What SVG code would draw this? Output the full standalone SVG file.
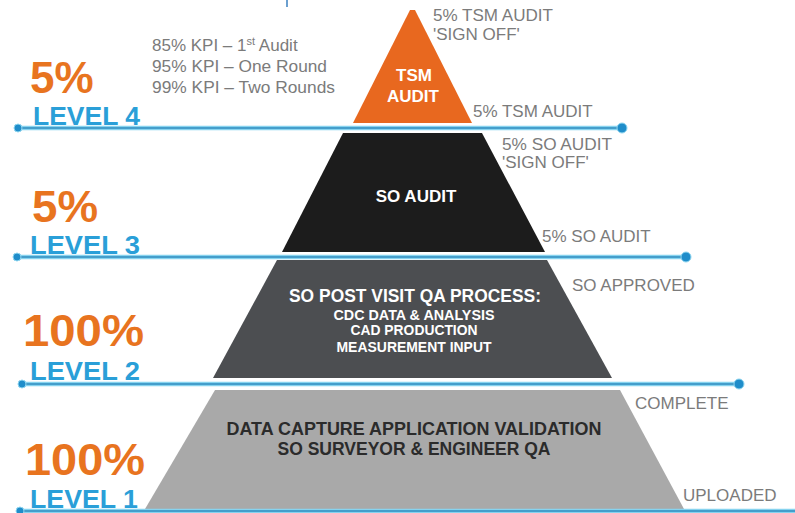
<svg xmlns="http://www.w3.org/2000/svg" width="795" height="513" viewBox="0 0 795 513">
<style>
  .pct { font-family: "Liberation Sans", Arial, sans-serif; font-weight: bold; fill: #e8741f; }
  .lvl { font-family: "Liberation Sans", Arial, sans-serif; font-weight: bold; font-size: 25px; fill: #2a9fd8; }
  .note { font-family: "Liberation Sans", Arial, sans-serif; font-size: 17px; fill: #7b7b7b; }
  .inw { font-family: "Liberation Sans", Arial, sans-serif; font-weight: bold; fill: #ffffff; text-anchor: middle; }
  .ind { font-family: "Liberation Sans", Arial, sans-serif; font-weight: bold; fill: #2b2b2b; text-anchor: middle; }
  .band { stroke: #86d3ef; stroke-width: 4.5; fill: none; }
  .core { stroke: #2f8cbf; stroke-width: 1.3; fill: none; }
  .dot { fill: #1f8dca; stroke: #8fd6f0; stroke-width: 1; }
</style>
<rect x="0" y="0" width="795" height="513" fill="#ffffff"/>
<line x1="287" y1="0" x2="287" y2="7" stroke="#3a7fbf" stroke-width="1.5"/>

<g id="tier-level4">
  <polygon points="410,10 415,10 472,123 353,123" fill="#e8681f"/>
  <text class="inw" x="414" y="81" font-size="17">TSM</text>
  <text class="inw" x="413" y="102" font-size="17">AUDIT</text>
</g>
<g id="tier-level3">
  <polygon points="343,133 482,133 545,252 282,252" fill="#1c1c1c"/>
  <text class="inw" x="416" y="202" font-size="17">SO AUDIT</text>
</g>
<g id="tier-level2">
  <polygon points="277,260 547,260 612,378 213,378" fill="#4c4e51"/>
  <text class="inw" x="415" y="302" font-size="17.5" textLength="252" lengthAdjust="spacingAndGlyphs">SO POST VISIT QA PROCESS:</text>
  <text class="inw" x="414" y="320" font-size="14" textLength="161" lengthAdjust="spacingAndGlyphs">CDC DATA &amp; ANALYSIS</text>
  <text class="inw" x="414" y="335" font-size="14" textLength="127" lengthAdjust="spacingAndGlyphs">CAD PRODUCTION</text>
  <text class="inw" x="414" y="352" font-size="14" textLength="155" lengthAdjust="spacingAndGlyphs">MEASUREMENT INPUT</text>
</g>
<g id="tier-level1">
  <polygon points="215,390 620,390 684,509 145,509" fill="#a9a9a9"/>
  <text class="ind" x="414" y="435" font-size="18" textLength="375" lengthAdjust="spacingAndGlyphs">DATA CAPTURE APPLICATION VALIDATION</text>
  <text class="ind" x="414" y="455" font-size="18" textLength="273" lengthAdjust="spacingAndGlyphs">SO SURVEYOR &amp; ENGINEER QA</text>
</g>

<g id="connectors">
  <line class="band" x1="18" y1="128" x2="622" y2="128"/>
  <line class="core" x1="18" y1="128" x2="622" y2="128"/>
  <circle class="dot" cx="18" cy="128" r="4"/>
  <circle class="dot" cx="622" cy="128" r="5"/>

  <line class="band" x1="17" y1="257" x2="686" y2="257"/>
  <line class="core" x1="17" y1="257" x2="686" y2="257"/>
  <circle class="dot" cx="17" cy="257" r="4"/>
  <circle class="dot" cx="686" cy="257" r="5"/>

  <line class="band" x1="22" y1="384" x2="739" y2="384"/>
  <line class="core" x1="22" y1="384" x2="739" y2="384"/>
  <circle class="dot" cx="22" cy="384" r="4"/>
  <circle class="dot" cx="739" cy="384" r="5"/>

  <line class="band" x1="20" y1="511" x2="795" y2="511" stroke-width="5"/>
  <line class="core" x1="20" y1="511" x2="795" y2="511"/>
  <circle class="dot" cx="20" cy="511" r="4"/>
</g>

<g id="label-level4">
  <text class="pct" x="30" y="93" font-size="44">5%</text>
  <text class="lvl" x="33" y="125" textLength="107" lengthAdjust="spacingAndGlyphs">LEVEL 4</text>
</g>
<g id="label-level3">
  <text class="pct" x="32" y="222" font-size="45" textLength="66" lengthAdjust="spacingAndGlyphs">5%</text>
  <text class="lvl" x="30" y="254" textLength="110" lengthAdjust="spacingAndGlyphs">LEVEL 3</text>
</g>
<g id="label-level2">
  <text class="pct" x="23" y="346" font-size="44" textLength="121" lengthAdjust="spacingAndGlyphs">100%</text>
  <text class="lvl" x="30" y="380" textLength="110" lengthAdjust="spacingAndGlyphs">LEVEL 2</text>
</g>
<g id="label-level1">
  <text class="pct" x="25" y="475" font-size="44" textLength="120" lengthAdjust="spacingAndGlyphs">100%</text>
  <text class="lvl" x="30" y="508" textLength="108" lengthAdjust="spacingAndGlyphs">LEVEL 1</text>
</g>

<g id="kpi-notes">
  <text class="note" x="152" y="51">85% KPI – 1<tspan font-size="11" dy="-6">st</tspan><tspan dy="6"> Audit</tspan></text>
  <text class="note" x="152" y="72" textLength="175" lengthAdjust="spacingAndGlyphs">95% KPI – One Round</text>
  <text class="note" x="152" y="93" textLength="183" lengthAdjust="spacingAndGlyphs">99% KPI – Two Rounds</text>
</g>

<g id="status-notes">
  <text class="note" x="433" y="21" font-size="16" textLength="120" lengthAdjust="spacingAndGlyphs">5% TSM AUDIT</text>
  <text class="note" x="433" y="40" font-size="16">'SIGN OFF'</text>
  <text class="note" x="473" y="117">5% TSM AUDIT</text>
  <text class="note" x="502" y="150" font-size="16" textLength="110" lengthAdjust="spacingAndGlyphs">5% SO AUDIT</text>
  <text class="note" x="502" y="168" font-size="16">'SIGN OFF'</text>
  <text class="note" x="542" y="242">5% SO AUDIT</text>
  <text class="note" x="572" y="291">SO APPROVED</text>
  <text class="note" x="635" y="409">COMPLETE</text>
  <text class="note" x="683" y="501">UPLOADED</text>
</g>
</svg>
